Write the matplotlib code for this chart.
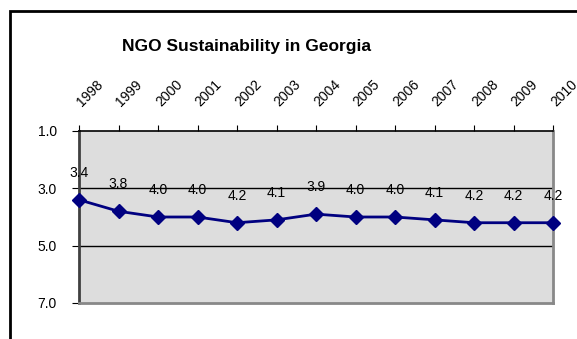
import matplotlib
matplotlib.use("Agg")
import matplotlib.pyplot as plt
from matplotlib.patches import Rectangle

years = ["1998", "1999", "2000", "2001", "2002", "2003", "2004",
         "2005", "2006", "2007", "2008", "2009", "2010"]
scores = [3.4, 3.8, 4.0, 4.0, 4.2, 4.1, 3.9, 4.0, 4.0, 4.1, 4.2, 4.2, 4.2]
y_ticks = [1.0, 3.0, 5.0, 7.0]

plt.rcParams["font.family"] = ["Liberation Sans", "DejaVu Sans"]

fig = plt.figure(figsize=(5.77, 3.39), dpi=100)
ax = fig.add_axes([79 / 577, 1 - 303 / 339, (553 - 79) / 577, (303 - 131) / 339])

# outer frame (only top and left edges show in the crop)
fig.patches.append(Rectangle((10 / 577, -0.2), 1.2, 1 - 11 / 339 + 0.2,
                             transform=fig.transFigure, fill=False,
                             edgecolor="black", linewidth=2))

x = list(range(len(years)))
ax.plot(x, scores, color="#000080", linewidth=2, marker="D", markersize=7,
        clip_on=False, zorder=3)

for xi, v in zip(x, scores):
    ax.annotate(f"{v:.1f}", (xi, v), xytext=(0, 19.5), textcoords="offset points",
                ha="center", va="center", fontsize=10, color="black",
                annotation_clip=False)

ax.set_xlim(0, len(years) - 1)
ax.set_ylim(7, 1)
ax.set_facecolor("#dddddd")

ax.set_yticks(y_ticks)
ax.set_yticklabels([f"{t:.1f}" for t in y_ticks], fontsize=10)
for gy in [3.0, 5.0]:
    ax.axhline(gy, color="black", linewidth=1, zorder=1)

ax.xaxis.tick_top()
ax.set_xticks(x)
ax.set_xticklabels(years, fontsize=10, rotation=45, ha="left", va="center",
                   rotation_mode="anchor")
ax.tick_params(axis="x", direction="out", length=4, pad=15, color="black")
ax.tick_params(axis="y", direction="out", length=5, pad=11, color="black")

ax.spines["top"].set_color("black")
ax.spines["top"].set_linewidth(1.2)
ax.spines["left"].set_color("#404040")
ax.spines["left"].set_linewidth(2)
ax.spines["right"].set_color("#888888")
ax.spines["right"].set_linewidth(2)
ax.spines["bottom"].set_color("#888888")
ax.spines["bottom"].set_linewidth(2)

fig.text(246 / 577, 1 - 46 / 339, "NGO Sustainability in Georgia",
         ha="center", va="center", fontsize=12.5, fontweight="bold")

fig.savefig("out.png", dpi=100)
